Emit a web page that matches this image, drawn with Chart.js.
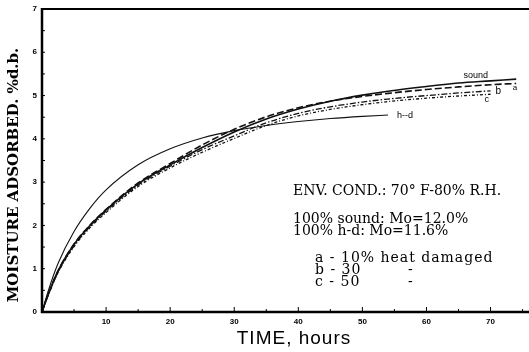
<!DOCTYPE html>
<html>
<head>
<meta charset="utf-8">
<script src="https://cdn.jsdelivr.net/npm/chart.js@4"></script>
<style>
  html, body { margin: 0; padding: 0; background: #fff; }
  #wrap { width: 529px; height: 352px; }
</style>
</head>
<body>
<div id="wrap"><canvas id="myChart" width="529" height="352"></canvas></div>
<script>
// hours
var times = [0, 1, 2.5, 5, 7.5, 10, 15, 20, 25, 30, 35, 40, 45, 50, 54, 60, 65, 70, 74];
// moisture adsorbed, % d.b.
var sound = [0, 0.42, 0.95, 1.56, 2.00, 2.36, 2.96, 3.40, 3.80, 4.16, 4.46, 4.69, 4.87, 5.01, 5.10, 5.21, 5.29, 5.34, 5.38];
var heat10 = [0, 0.42, 0.95, 1.57, 2.01, 2.37, 2.98, 3.43, 3.86, 4.22, 4.51, 4.72, 4.87, 4.98, 5.05, 5.14, 5.20, 5.25, 5.28];
var heat30 = [0, 0.40, 0.92, 1.53, 1.97, 2.33, 2.93, 3.37, 3.75, 4.07, 4.37, 4.59, 4.74, 4.85, 4.92, 5.00, 5.06, 5.11];
var heat50 = [0, 0.40, 0.91, 1.51, 1.95, 2.30, 2.90, 3.33, 3.69, 4.01, 4.31, 4.53, 4.68, 4.79, 4.86, 4.94, 4.99, 5.03];
var heatDamaged = [0, 0.50, 1.12, 1.86, 2.40, 2.82, 3.40, 3.77, 4.02, 4.19, 4.31, 4.40, 4.47, 4.52, 4.55];

var xTicks = [10, 20, 30, 40, 50, 60, 70];
var yTicks = [0, 1, 2, 3, 4, 5, 6, 7];

function pts(vals) {
    return vals.map(function (v, i) { return { x: times[i], y: v }; });
}

function line(label, vals, dash, width) {
    return {
        label: label,
        data: pts(vals),
        borderColor: '#111',
        borderWidth: width,
        borderDash: dash,
        pointRadius: 0,
        fill: false,
        cubicInterpolationMode: 'monotone'
    };
}

var serif = '"DejaVu Serif", "Liberation Serif", serif';
var sans = '"Liberation Sans", Arial, sans-serif';

var decor = {
    id: 'decor',
    afterDraw: function (chart) {
        var c = chart.ctx, xs = chart.scales.x, ys = chart.scales.y, a = chart.chartArea;
        c.save();
        c.strokeStyle = '#000';
        // frame: left, bottom, top
        c.lineWidth = 2.5;
        c.beginPath();
        c.moveTo(a.left, a.top - 1);
        c.lineTo(a.left, a.bottom);
        c.lineTo(a.right, a.bottom);
        c.stroke();
        c.lineWidth = 2;
        c.beginPath();
        c.moveTo(a.left, a.top);
        c.lineTo(a.right, a.top);
        c.stroke();
        // inward ticks
        c.lineWidth = 1;
        for (var h = 5; h <= 75; h += 5) {
            var px = xs.getPixelForValue(h);
            c.beginPath();
            c.moveTo(px, a.bottom);
            c.lineTo(px, a.bottom - (h % 10 === 0 ? 5 : 3));
            c.stroke();
        }
        for (var v = 0.5; v < 7; v += 0.5) {
            var py = ys.getPixelForValue(v);
            c.beginPath();
            c.moveTo(a.left, py);
            c.lineTo(a.left + 3, py);
            c.stroke();
        }
        // tick labels
        c.fillStyle = '#000';
        c.font = 'bold 8px ' + sans;
        c.textAlign = 'center';
        c.textBaseline = 'middle';
        xTicks.forEach(function (t) {
            c.fillText(String(t), xs.getPixelForValue(t), a.bottom + 10);
        });
        c.textAlign = 'right';
        yTicks.forEach(function (t) {
            c.fillText(String(t), a.left - 5, ys.getPixelForValue(t));
        });
        // axis titles
        c.font = '19px ' + sans;
        c.letterSpacing = '1px';
        c.textAlign = 'center';
        c.fillText('TIME, hours', 294, 339);
        c.letterSpacing = '0px';
        c.save();
        c.translate(14, 175);
        c.rotate(-Math.PI / 2);
        c.font = 'bold 15px ' + serif;
        c.fillText('MOISTURE ADSORBED. %d.b.', 0, 0);
        c.restore();
        // curve labels
        c.font = '9px ' + sans;
        c.textAlign = 'center';
        c.fillText('sound', xs.getPixelForValue(67.7), ys.getPixelForValue(5.47));
        c.font = '8px ' + sans;
        c.fillText('a', xs.getPixelForValue(73.8), ys.getPixelForValue(5.19));
        c.font = '10px ' + sans;
        c.fillText('b', xs.getPixelForValue(71.2), ys.getPixelForValue(5.1));
        c.font = '9px ' + sans;
        c.fillText('c', xs.getPixelForValue(69.4), ys.getPixelForValue(4.9));
        c.textAlign = 'left';
        c.fillText('h--d', xs.getPixelForValue(55.4), ys.getPixelForValue(4.55));
        // legend block
        c.font = '14px ' + serif;
        c.textBaseline = 'alphabetic';
        c.fillText('ENV. COND.: 70\u00b0 F-80% R.H.', 293, 195);
        c.fillText('100% sound: Mo=12.0%', 293, 223);
        c.fillText('100% h-d: Mo=11.6%', 293, 235);
        c.letterSpacing = '1px';
        c.fillText('a - 10% heat damaged', 315, 262);
        c.fillText('b - 30', 315, 274);
        c.fillText('c - 50', 315, 286);
        c.letterSpacing = '0px';
        c.fillText('-', 408, 274);
        c.fillText('-', 408, 286);
        c.restore();
    }
};

var ctx = document.getElementById('myChart').getContext('2d');
var myChart = new Chart(ctx, {
    type: 'line',
    data: {
        datasets: [
            line('sound', sound, [], 1.6),
            line('a', heat10, [7, 3], 1.6),
            line('b', heat30, [6, 2, 1.5, 2], 1.3),
            line('c', heat50, [3, 2, 1, 2], 1.3),
            line('h-d', heatDamaged, [], 1.1)
        ]
    },
    plugins: [decor],
    options: {
        responsive: false,
        animation: false,
        layout: { padding: { top: 9, right: 0, bottom: 0, left: 0 } },
        plugins: {
            legend: { display: false },
            tooltip: { enabled: false }
        },
        scales: {
            x: {
                type: 'linear',
                min: 0,
                max: 76,
                grid: { display: false },
                border: { display: false },
                ticks: { display: false },
                afterFit: function (s) { s.height = 40; }
            },
            y: {
                min: 0,
                max: 7,
                grid: { display: false },
                border: { display: false },
                ticks: { display: false },
                afterFit: function (s) { s.width = 42; }
            }
        }
    }
});
</script>
</body>
</html>
